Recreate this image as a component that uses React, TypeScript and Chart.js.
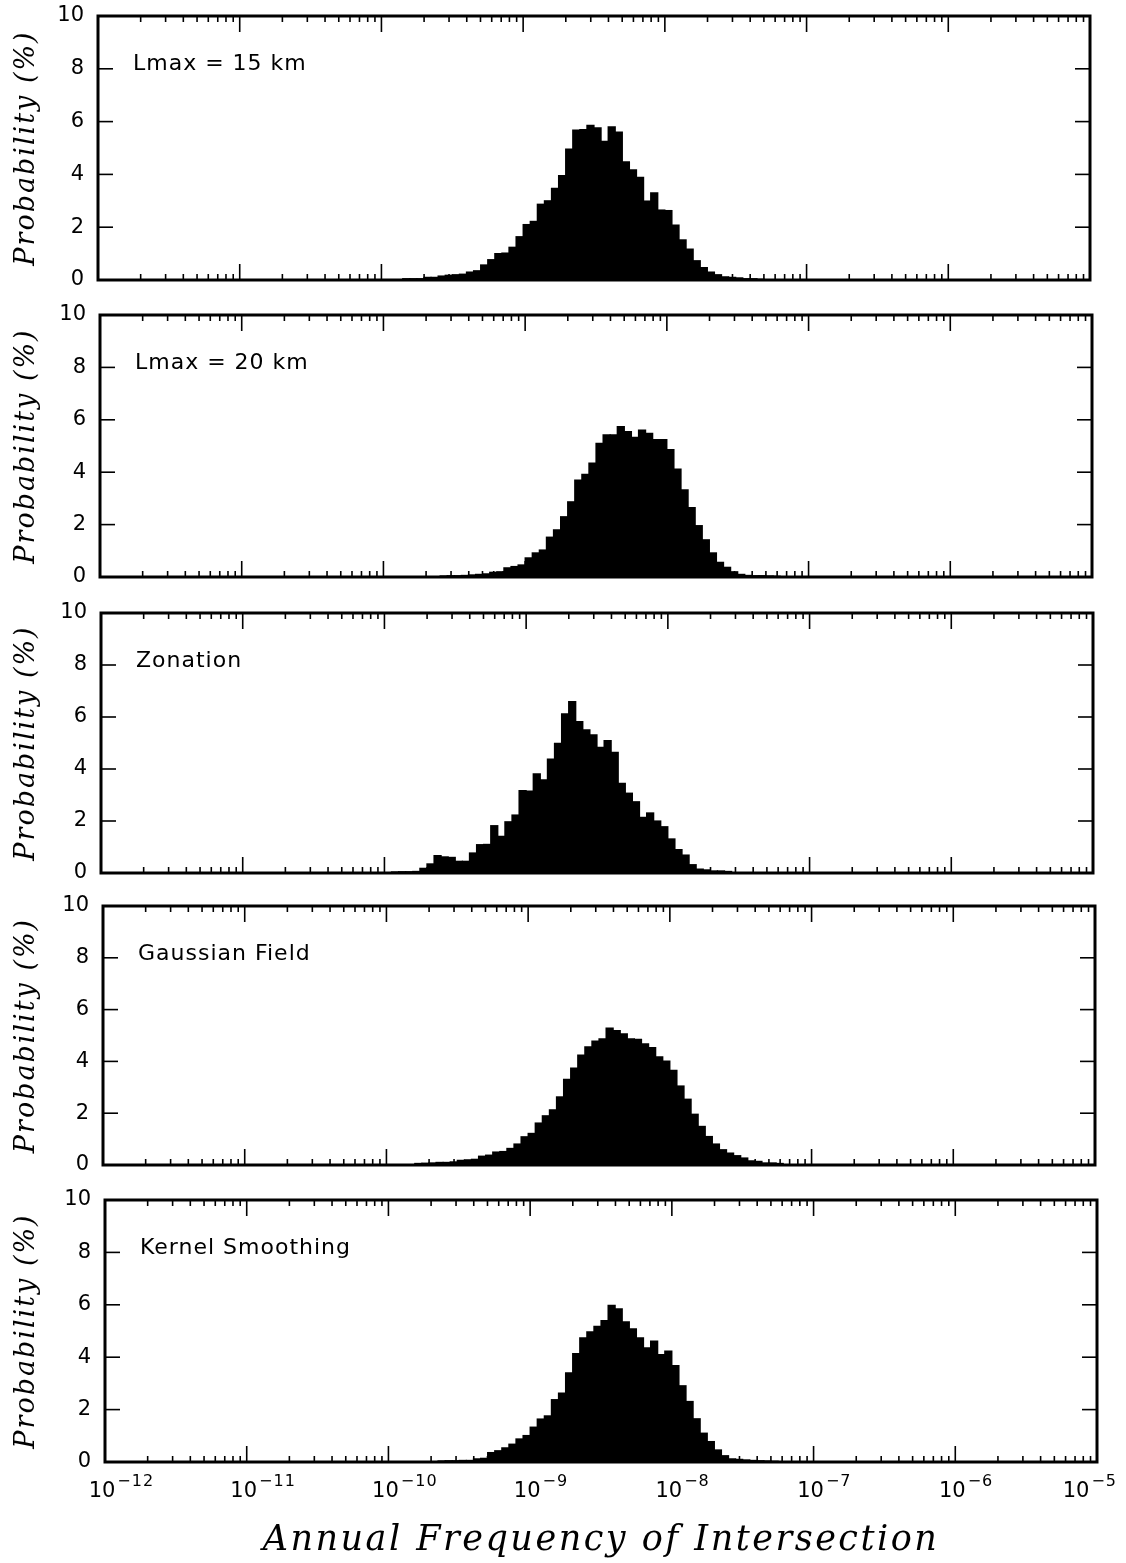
import React, { useEffect, useRef } from 'react';
import { Chart, registerables } from 'chart.js';

Chart.register(...registerables);

// ---------- data ----------
const LOG_MIN = -12;
const LOG_MAX = -5;
const BIN_WIDTH_LOG = 0.05; // 20 bins per decade

const X_TICK_VALUES = [1e-12, 1e-11, 1e-10, 1e-9, 1e-8, 1e-7, 1e-6, 1e-5];
const X_TICK_BASE = '10';
const X_TICK_EXPONENTS = ['−12', '−11', '−10', '−9', '−8', '−7', '−6', '−5'];
const Y_TICKS = [0, 2, 4, 6, 8, 10];
const PANEL_LABELS = ['Lmax = 15 km', 'Lmax = 20 km', 'Zonation', 'Gaussian Field', 'Kernel Smoothing'];
const Y_TITLE = 'Probability (%)';
const X_TITLE = 'Annual Frequency of Intersection';

// first bin index (bins counted from 1e-12) of each series
const LMAX15_START = 43;
const LMAX15 = [0.05, 0.05, 0.05, 0.1, 0.1, 0.15, 0.18, 0.2, 0.22, 0.3, 0.35,
  0.57, 0.77, 1.0, 1.02, 1.24, 1.64, 2.1, 2.22, 2.87, 3.0, 3.47, 3.95, 4.96, 5.68, 5.7,
  5.86, 5.76, 5.25, 5.8, 5.6, 4.48, 4.17, 3.89, 2.99, 3.3, 2.65, 2.63, 2.08, 1.52, 1.17,
  0.73, 0.47, 0.3, 0.2, 0.12, 0.1, 0.08, 0.05, 0.05, 0.03];

const LMAX20_START = 48;
const LMAX20 = [0.04, 0.05, 0.05, 0.06, 0.08, 0.1, 0.12, 0.18, 0.2, 0.35, 0.4, 0.46,
  0.73, 0.92, 1.03, 1.52, 1.8, 2.3, 2.87, 3.7, 3.92, 4.35, 5.1, 5.43, 5.43, 5.74, 5.55,
  5.33, 5.61, 5.48, 5.24, 5.24, 4.86, 4.12, 3.33, 2.65, 1.96, 1.42, 0.92, 0.56, 0.37,
  0.2, 0.1, 0.06, 0.05, 0.05, 0.04, 0.03];

const ZONATION_START = 41;
const ZONATION = [0.04, 0.05, 0.05, 0.06, 0.18, 0.35, 0.67, 0.62, 0.6, 0.45, 0.45,
  0.77, 1.09, 1.1, 1.82, 1.41, 1.97, 2.23, 3.17, 3.15, 3.81, 3.58, 4.38, 4.99, 6.12,
  6.59, 5.82, 5.51, 5.31, 4.83, 5.09, 4.64, 3.45, 3.07, 2.74, 2.14, 2.31, 2.0, 1.78,
  1.31, 0.9, 0.69, 0.32, 0.15, 0.12, 0.08, 0.08, 0.06];

const GAUSSIAN_START = 44;
const GAUSSIAN = [0.06, 0.07, 0.08, 0.1, 0.1, 0.12, 0.18, 0.2, 0.22, 0.34, 0.38, 0.5,
  0.52, 0.64, 0.81, 1.09, 1.22, 1.62, 1.9, 2.13, 2.63, 3.31, 3.74, 4.24, 4.56, 4.78,
  4.87, 5.29, 5.19, 5.06, 4.87, 4.85, 4.68, 4.53, 4.18, 4.01, 3.65, 3.05, 2.54, 1.96,
  1.49, 1.1, 0.81, 0.59, 0.46, 0.36, 0.27, 0.16, 0.14, 0.08, 0.08, 0.06];

const KERNEL_START = 47;
const KERNEL = [0.04, 0.05, 0.05, 0.06, 0.06, 0.12, 0.14, 0.36, 0.43, 0.54, 0.68,
  0.88, 1.01, 1.33, 1.64, 1.76, 2.38, 2.63, 3.4, 4.14, 4.74, 4.97, 5.18, 5.4, 5.98,
  5.85, 5.35, 5.08, 4.74, 4.36, 4.61, 4.1, 4.23, 3.68, 2.91, 2.31, 1.65, 1.1, 0.78,
  0.46, 0.24, 0.12, 0.1, 0.08, 0.06, 0.05, 0.04, 0.03];

const SERIES = [LMAX15, LMAX20, ZONATION, GAUSSIAN, KERNEL];
const SERIES_START = [LMAX15_START, LMAX20_START, ZONATION_START, GAUSSIAN_START, KERNEL_START];

// ---------- layout ----------
const PAGE_W = 1126;
const PAGE_H = 1563;
const PANEL_LEFT = [98, 100, 101, 103, 105];
const PANEL_RIGHT = [1090, 1092, 1093, 1095, 1097];
const PANEL_TOP = [16, 315, 613, 906, 1200];
const PANEL_BOTTOM = [280, 577, 873, 1165, 1462];

const binCenter = (k: number) => Math.pow(10, LOG_MIN + (k + 0.5) * BIN_WIDTH_LOG);

const setSpacing = (ctx: any, v: string) => {
  try { ctx.letterSpacing = v; } catch (e) { /* ignore */ }
};

const frameDeco = {
  id: 'frameDeco',
  afterDatasetsDraw(chart: any, _args: any, opts: any) {
    const { ctx, chartArea: a, scales } = chart;
    const x = scales.x;
    const y = scales.y;
    ctx.save();
    ctx.strokeStyle = '#000';
    ctx.fillStyle = '#000';
    ctx.lineWidth = 1.6;
    const line = (x1: number, y1: number, x2: number, y2: number) => {
      ctx.beginPath();
      ctx.moveTo(x1, y1);
      ctx.lineTo(x2, y2);
      ctx.stroke();
    };
    // log minor / major ticks, inward, top and bottom
    for (let e = LOG_MIN; e < LOG_MAX; e++) {
      for (let m = 1; m <= 9; m++) {
        const px = x.getPixelForValue(m * Math.pow(10, e));
        const len = m === 1 ? 16 : 6;
        line(px, a.bottom, px, a.bottom - len);
        line(px, a.top, px, a.top + len);
      }
    }
    // y ticks inward, left and right
    Y_TICKS.forEach((v) => {
      const py = y.getPixelForValue(v);
      line(a.left, py, a.left + 15, py);
      line(a.right, py, a.right - 15, py);
    });
    // frame
    ctx.lineWidth = 3;
    ctx.strokeRect(a.left, a.top, a.right - a.left, a.bottom - a.top);

    // panel label
    if (opts && opts.label) {
      ctx.font = '22px "DejaVu Sans"';
      setSpacing(ctx, '1px');
      ctx.textBaseline = 'alphabetic';
      ctx.textAlign = 'left';
      ctx.fillText(opts.label, a.left + 35, a.top + 54);
    }

    // y axis title (rotated)
    ctx.save();
    ctx.translate(27, (a.top + a.bottom) / 2);
    ctx.rotate(-Math.PI / 2);
    ctx.font = 'italic 27px "DejaVu Serif"';
    setSpacing(ctx, '2px');
    ctx.textAlign = 'center';
    ctx.textBaseline = 'middle';
    ctx.fillText(Y_TITLE, 0, 0);
    ctx.restore();

    // x tick labels & title on the last panel
    if (opts && opts.showX) {
      ctx.textBaseline = 'alphabetic';
      ctx.textAlign = 'left';
      X_TICK_VALUES.forEach((v, i) => {
        const px = x.getPixelForValue(v);
        ctx.font = '21px "DejaVu Sans"';
        setSpacing(ctx, '0px');
        const bw = ctx.measureText(X_TICK_BASE).width;
        ctx.font = '16px "DejaVu Sans"';
        setSpacing(ctx, '1px');
        const ew = ctx.measureText(X_TICK_EXPONENTS[i]).width;
        let bx = px - 3 - bw / 2;
        const right = bx + bw + 2 + ew;
        const maxRight = PAGE_W - 9;
        if (right > maxRight) bx -= right - maxRight;
        ctx.font = '21px "DejaVu Sans"';
        setSpacing(ctx, '0px');
        ctx.fillText(X_TICK_BASE, bx, a.bottom + 35);
        ctx.font = '16px "DejaVu Sans"';
        setSpacing(ctx, '1px');
        ctx.fillText(X_TICK_EXPONENTS[i], bx + bw + 2, a.bottom + 24);
      });
      ctx.font = 'italic 35px "DejaVu Serif"';
      setSpacing(ctx, '2.5px');
      ctx.textAlign = 'center';
      ctx.fillText(X_TITLE, (a.left + a.right) / 2, a.bottom + 88);
    }
    ctx.restore();
  },
};

function Panel({ idx }: { idx: number }) {
  const ref = useRef<HTMLCanvasElement>(null);
  const isLast = idx === 4;
  const cTop = PANEL_TOP[idx] - 15;
  const cHeight = isLast ? PAGE_H - cTop : PANEL_BOTTOM[idx] - PANEL_TOP[idx] + 30;

  useEffect(() => {
    const values = SERIES[idx];
    const start = SERIES_START[idx];
    const points = values.map((v, i) => ({ x: binCenter(start + i), y: v }));
    const chart = new Chart(ref.current as HTMLCanvasElement, {
      type: 'bar',
      data: {
        datasets: [
          {
            data: points as any,
            backgroundColor: '#000',
            borderWidth: 0,
            inflateAmount: 0.6,
            barPercentage: 1,
            categoryPercentage: 1,
          } as any,
        ],
      },
      options: {
        responsive: false,
        animation: false,
        devicePixelRatio: 1,
        layout: {
          padding: {
            left: 0,
            right: PAGE_W - PANEL_RIGHT[idx],
            top: PANEL_TOP[idx] - cTop,
            bottom: isLast ? 0 : cTop + cHeight - PANEL_BOTTOM[idx],
          },
        },
        plugins: {
          legend: { display: false },
          tooltip: { enabled: false },
          frameDeco: { label: PANEL_LABELS[idx], showX: isLast },
        } as any,
        scales: {
          x: {
            type: 'logarithmic',
            min: X_TICK_VALUES[0],
            max: X_TICK_VALUES[X_TICK_VALUES.length - 1],
            display: isLast,
            grid: { display: false, drawTicks: false },
            border: { display: false },
            afterBuildTicks: (s: any) => {
              s.ticks = X_TICK_VALUES.map((v) => ({ value: v }));
            },
            afterFit: (s: any) => {
              if (isLast) s.height = PAGE_H - PANEL_BOTTOM[4];
              s.paddingLeft = 0;
              s.paddingRight = 0;
            },
            ticks: { display: false },
            title: { display: false },
          } as any,
          y: {
            min: 0,
            max: 10,
            grid: { display: false, drawTicks: false },
            border: { display: false },
            afterBuildTicks: (s: any) => {
              s.ticks = Y_TICKS.map((v) => ({ value: v }));
            },
            afterFit: (s: any) => {
              s.width = PANEL_LEFT[idx];
              s.paddingTop = 0;
              s.paddingBottom = 0;
            },
            ticks: {
              padding: 14,
              color: '#000',
              font: { family: 'DejaVu Sans', size: 21 },
            },
            title: { display: false },
          } as any,
        },
      },
      plugins: [frameDeco],
    });
    return () => chart.destroy();
  }, [idx]);

  return (
    <canvas
      ref={ref}
      width={PAGE_W}
      height={cHeight}
      style={{ position: 'absolute', left: 0, top: cTop, width: PAGE_W, height: cHeight, display: 'block' }}
    />
  );
}

export default function App() {
  return (
    <div style={{ position: 'absolute', left: 0, top: 0, width: PAGE_W, height: PAGE_H, background: '#fff', overflow: 'hidden' }}>
      {[0, 1, 2, 3, 4].map((i) => (
        <Panel key={i} idx={i} />
      ))}
    </div>
  );
}
